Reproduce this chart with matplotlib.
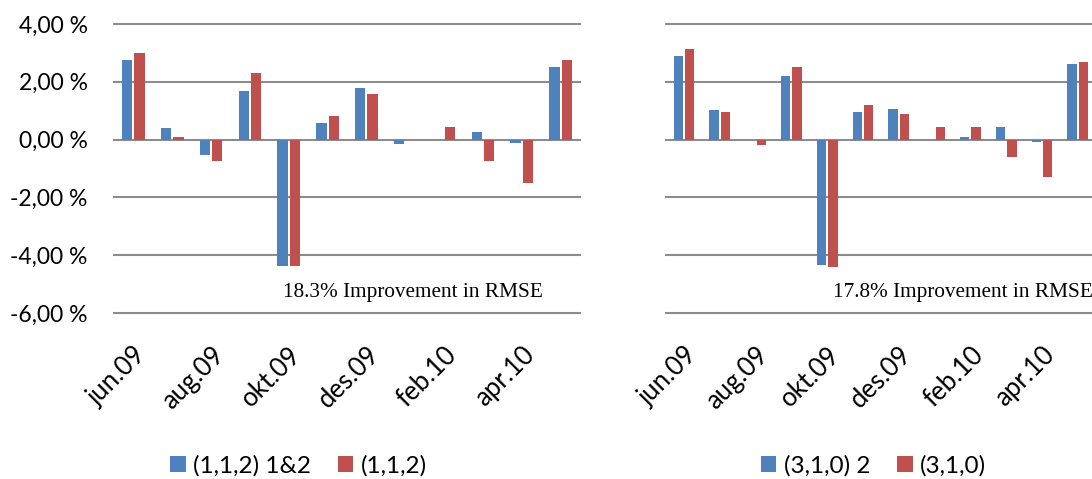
import matplotlib
matplotlib.use("Agg")
import matplotlib.pyplot as plt
from matplotlib.patches import Patch
import numpy as np

plt.rcParams['font.family'] = ['Lato', 'DejaVu Sans']

months = ["jun.09", "jul.09", "aug.09", "sep.09", "okt.09", "nov.09",
          "des.09", "jan.10", "feb.10", "mar.10", "apr.10", "mai.10"]

# Monthly forecast improvement (%), left chart
left_blue = [2.75, 0.40, -0.54, 1.67, -4.39, 0.58, 1.78, -0.16, 0.00, 0.28, -0.12, 2.50]
left_red = [3.00, 0.09, -0.75, 2.30, -4.39, 0.80, 1.58, 0.00, 0.44, -0.75, -1.50, 2.74]
left_names = ["(1,1,2) 1&2", "(1,1,2)"]
left_note = "18.3% Improvement in RMSE"

# Monthly forecast improvement (%), right chart
right_blue = [2.88, 1.03, 0.00, 2.19, -4.35, 0.94, 1.07, 0.00, 0.08, 0.44, -0.07, 2.60]
right_red = [3.13, 0.94, -0.20, 2.52, -4.40, 1.21, 0.90, 0.42, 0.44, -0.61, -1.29, 2.67]
right_names = ["(3,1,0) 2", "(3,1,0)"]
right_note = "17.8% Improvement in RMSE"

yticks = [-6, -4, -2, 0, 2, 4]

BLUE = "#4F81BD"
RED = "#C0504D"
GRID = "#8c8c8c"

W, H = 1092, 479
fig = plt.figure(figsize=(W / 100, H / 100), dpi=100)


def px_axes(x0, x1, ytop, ybot):
    return fig.add_axes([x0 / W, 1 - ybot / H, (x1 - x0) / W, (ybot - ytop) / H])


def draw_panel(ax, blue, red, show_y):
    x = np.arange(len(months))
    bw = 0.265
    off = 0.16
    ax.bar(x - off, blue, bw, color=BLUE, linewidth=0, zorder=3)
    ax.bar(x + off, red, bw, color=RED, linewidth=0, zorder=3)
    ax.set_xlim(-0.5, len(months) - 0.5)
    ax.set_ylim(-6, 4)
    ax.set_yticks(yticks)
    ax.yaxis.grid(True, color=GRID, linewidth=1.5, zorder=1)
    for gl in ax.get_ygridlines():
        gl.set_clip_on(False)
    for s in ax.spines.values():
        s.set_visible(False)
    ax.tick_params(axis="y", length=0, pad=19, labelsize=16.5)
    if show_y:
        ax.set_yticklabels([f"{v},00 %" for v in yticks])
    else:
        ax.set_yticklabels([])
    ax.set_xticks(x[::2])
    ax.set_xticklabels(months[::2], rotation=45, ha="right", va="top",
                       rotation_mode="anchor", fontsize=18.5)
    ax.tick_params(axis="x", length=0, pad=21)


axL = px_axes(114, 580, 24, 313)
draw_panel(axL, left_blue, left_red, True)
axR = px_axes(666.1, 666.1 + 12 * 35.8, 24, 313)
draw_panel(axR, right_blue, right_red, False)

fig.text(283.3 / W, 1 - 297.5 / H, left_note, family="Liberation Serif",
         fontsize=15.3, ha="left", va="baseline")
fig.text(832.7 / W, 1 - 297.5 / H, right_note, family="Liberation Serif",
         fontsize=15.3, ha="left", va="baseline")


def add_legend(names, cx):
    handles = [Patch(facecolor=BLUE, edgecolor="none"), Patch(facecolor=RED, edgecolor="none")]
    fig.legend(handles, names, loc="center", bbox_to_anchor=(cx / W, 1 - 466 / H),
               ncol=2, frameon=False, fontsize=17.5, handlelength=0.64,
               handleheight=0.64, handletextpad=0.3, columnspacing=1.1,
               borderpad=0, borderaxespad=0)


add_legend(left_names, 298.5)
add_legend(right_names, 873.4)

fig.savefig("out.png", dpi=100)
